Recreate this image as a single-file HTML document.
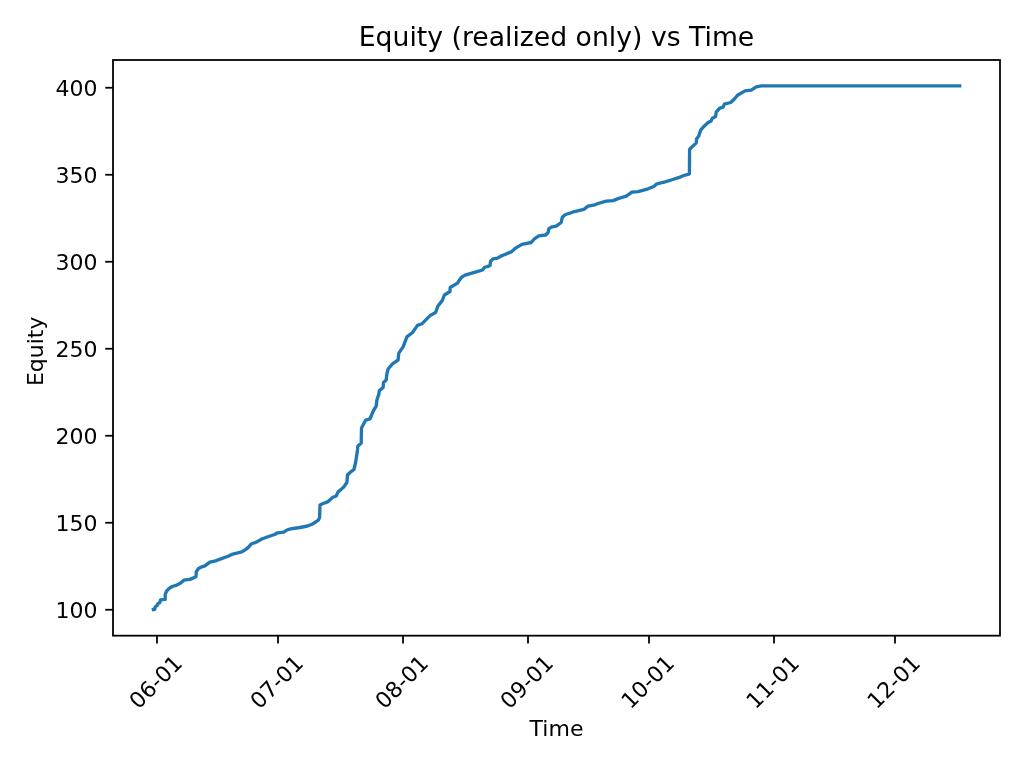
<!DOCTYPE html>
<html lang="en"><head><meta charset="utf-8"><title>Equity (realized only) vs Time</title>
<style>
html,body{margin:0;padding:0;background:#fff;}
body{width:1024px;height:768px;overflow:hidden;}
svg{display:block;}
text{font-family:"DejaVu Sans","Liberation Sans",sans-serif;fill:#000;}
.tk{font-size:22px;}
.ti{font-size:26.67px;}
</style></head><body>
<svg width="1024" height="768" viewBox="0 0 1024 768">
<rect width="1024" height="768" fill="#fff"/>
<path d="M153.4,609.5 L154.8,609.3 L155.1,607.0 L157.2,605.4 L157.9,603.6 L159.9,602.5 L160.5,599.8 L165.2,599.4 L165.2,594.5 L166.6,591.1 L169.1,588.4 L172.2,586.5 L176.0,585.4 L181.0,582.8 L183.8,580.2 L189.8,579.4 L194.1,577.6 L196.0,576.7 L196.2,572.0 L198.6,568.4 L201.8,566.8 L204.9,565.9 L209.9,562.1 L215.5,560.9 L228.0,556.2 L231.8,554.4 L241.8,551.8 L245.5,549.6 L248.6,547.1 L251.1,544.0 L256.8,541.9 L261.8,539.0 L268.0,536.8 L276.0,534.0 L276.2,533.1 L283.8,532.2 L286.9,530.0 L290.6,528.8 L300.0,527.5 L307.5,526.0 L312.5,524.0 L318.1,520.4 L319.6,517.5 L320.0,505.0 L322.5,503.8 L327.5,501.9 L332.5,497.5 L336.2,496.0 L338.1,491.9 L343.8,486.9 L346.9,482.5 L347.5,475.0 L350.0,472.5 L354.0,469.4 L355.6,462.5 L357.5,450.0 L357.8,446.2 L361.2,443.1 L361.5,428.1 L365.6,420.2 L369.8,419.0 L373.8,410.0 L376.2,406.2 L376.9,400.0 L378.8,394.4 L379.4,390.6 L383.1,387.5 L383.5,382.5 L386.2,380.0 L386.9,373.8 L388.1,369.0 L392.5,363.8 L398.1,360.0 L398.8,353.1 L403.1,346.9 L406.9,336.9 L412.5,332.5 L417.5,325.4 L421.9,323.8 L430.0,315.6 L435.6,312.5 L437.8,306.2 L442.2,300.6 L444.4,295.0 L450.0,291.5 L450.2,287.5 L457.5,283.1 L461.2,277.5 L465.0,275.2 L476.2,271.9 L482.5,270.0 L484.4,267.5 L490.0,265.6 L490.6,261.2 L493.1,258.8 L497.5,258.1 L501.2,256.0 L511.2,251.9 L515.6,248.1 L521.9,244.4 L531.2,242.5 L534.4,238.8 L538.8,235.9 L545.6,235.0 L548.1,232.5 L548.8,228.8 L551.2,227.2 L556.2,226.2 L561.2,222.5 L562.2,217.5 L565.0,214.8 L572.5,212.2 L583.8,209.4 L588.1,206.2 L595.0,204.8 L598.0,203.5 L606.2,201.2 L613.1,200.6 L618.8,198.4 L626.2,196.2 L631.9,192.2 L638.1,191.6 L648.1,188.8 L653.8,186.5 L656.9,183.8 L665.0,181.9 L671.2,180.0 L680.0,177.2 L682.5,176.0 L689.4,173.8 L689.6,149.4 L691.9,146.9 L696.2,143.1 L696.5,140.0 L696.5,139.0 L698.8,135.9 L700.6,130.2 L704.4,125.9 L708.1,122.5 L711.2,120.9 L712.2,118.4 L715.6,116.5 L716.2,112.1 L719.4,108.4 L723.1,107.1 L724.4,104.2 L730.6,102.5 L734.4,99.0 L737.5,95.2 L745.0,90.9 L751.2,90.2 L756.2,86.9 L761.2,85.9 L959.7,85.9" fill="none" stroke="#1f77b4" stroke-width="3.33" stroke-linejoin="round" stroke-linecap="square"/>
<rect x="113" y="60" width="887" height="575.67" fill="none" stroke="#000" stroke-width="1.78" stroke-linejoin="miter"/>
<line x1="105.22" y1="609.75" x2="113" y2="609.75" stroke="#000" stroke-width="1.78"/>
<text class="tk" x="97.44" y="618.15" text-anchor="end">100</text>
<line x1="105.22" y1="522.75" x2="113" y2="522.75" stroke="#000" stroke-width="1.78"/>
<text class="tk" x="97.44" y="531.15" text-anchor="end">150</text>
<line x1="105.22" y1="435.75" x2="113" y2="435.75" stroke="#000" stroke-width="1.78"/>
<text class="tk" x="97.44" y="444.15" text-anchor="end">200</text>
<line x1="105.22" y1="348.75" x2="113" y2="348.75" stroke="#000" stroke-width="1.78"/>
<text class="tk" x="97.44" y="357.15" text-anchor="end">250</text>
<line x1="105.22" y1="261.75" x2="113" y2="261.75" stroke="#000" stroke-width="1.78"/>
<text class="tk" x="97.44" y="270.15" text-anchor="end">300</text>
<line x1="105.22" y1="174.75" x2="113" y2="174.75" stroke="#000" stroke-width="1.78"/>
<text class="tk" x="97.44" y="183.15" text-anchor="end">350</text>
<line x1="105.22" y1="87.75" x2="113" y2="87.75" stroke="#000" stroke-width="1.78"/>
<text class="tk" x="97.44" y="96.15" text-anchor="end">400</text>
<line x1="157" y1="635.67" x2="157" y2="643.4499999999999" stroke="#000" stroke-width="1.78"/>
<text class="tk" transform="translate(161.1,687.3) rotate(-45)" text-anchor="middle">06-01</text>
<line x1="278" y1="635.67" x2="278" y2="643.4499999999999" stroke="#000" stroke-width="1.78"/>
<text class="tk" transform="translate(282.1,687.3) rotate(-45)" text-anchor="middle">07-01</text>
<line x1="403" y1="635.67" x2="403" y2="643.4499999999999" stroke="#000" stroke-width="1.78"/>
<text class="tk" transform="translate(407.1,687.3) rotate(-45)" text-anchor="middle">08-01</text>
<line x1="528" y1="635.67" x2="528" y2="643.4499999999999" stroke="#000" stroke-width="1.78"/>
<text class="tk" transform="translate(532.1,687.3) rotate(-45)" text-anchor="middle">09-01</text>
<line x1="649" y1="635.67" x2="649" y2="643.4499999999999" stroke="#000" stroke-width="1.78"/>
<text class="tk" transform="translate(653.1,687.3) rotate(-45)" text-anchor="middle">10-01</text>
<line x1="774" y1="635.67" x2="774" y2="643.4499999999999" stroke="#000" stroke-width="1.78"/>
<text class="tk" transform="translate(778.1,687.3) rotate(-45)" text-anchor="middle">11-01</text>
<line x1="895" y1="635.67" x2="895" y2="643.4499999999999" stroke="#000" stroke-width="1.78"/>
<text class="tk" transform="translate(899.1,687.3) rotate(-45)" text-anchor="middle">12-01</text>
<text class="ti" x="556.5" y="45.7" text-anchor="middle">Equity (realized only) vs Time</text>
<text class="tk" x="556.5" y="736.2" text-anchor="middle">Time</text>
<text class="tk" transform="translate(43,351.3) rotate(-90)" text-anchor="middle">Equity</text>
</svg></body></html>
